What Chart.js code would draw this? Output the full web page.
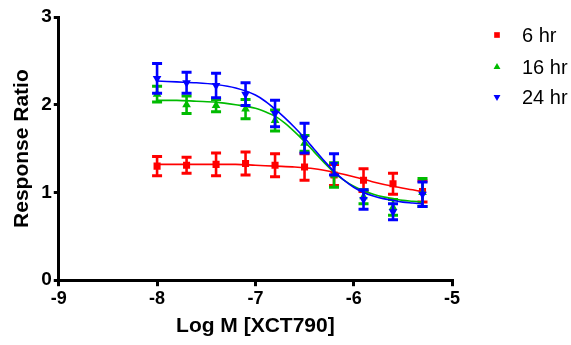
<!DOCTYPE html>
<html>
<head>
<meta charset="utf-8">
<script src="https://cdn.jsdelivr.net/npm/chart.js@4"></script>
<style>
  html, body { margin: 0; padding: 0; background: #fff; }
  #wrap { width: 571px; height: 345px; }
</style>
</head>
<body>
<div id="wrap"><canvas id="chart" width="571" height="345"></canvas></div>
<script>
// measured points (log dose, mean response, SEM)
const logDose = [-8, -7.7, -7.4, -7.1, -6.8, -6.5, -6.2, -5.9, -5.6, -5.3];
const mean6  = [1.30, 1.31, 1.32, 1.33, 1.31, 1.29, 1.20, 1.14, 1.10, 1.01];
const err6   = [0.11, 0.09, 0.13, 0.13, 0.13, 0.15, 0.12, 0.13, 0.12, 0.12];
const mean16 = [2.12, 2.00, 1.99, 1.95, 1.82, 1.56, 1.20, 0.95, 0.83, 1.00];
const err16  = [0.09, 0.10, 0.07, 0.11, 0.12, 0.09, 0.14, 0.08, 0.09, 0.16];
const mean24 = [2.30, 2.25, 2.22, 2.12, 1.90, 1.62, 1.32, 0.92, 0.78, 0.98];
const err24  = [0.17, 0.12, 0.14, 0.13, 0.15, 0.17, 0.12, 0.11, 0.09, 0.14];

// fitted curves
const curveX6 = [-8, -7.6, -7.2, -7.0, -6.8, -6.6, -6.4, -6.2, -6.0, -5.8, -5.6, -5.4, -5.3];
const fit6    = [1.32, 1.32, 1.32, 1.31, 1.30, 1.29, 1.27, 1.23, 1.18, 1.12, 1.07, 1.03, 1.01];
const curveX  = [-8, -7.8, -7.6, -7.4, -7.2, -7.0, -6.9, -6.8, -6.7, -6.6, -6.5, -6.4,
                 -6.3, -6.2, -6.1, -6.0, -5.9, -5.8, -5.7, -5.6, -5.5, -5.4, -5.3];
const fit16   = [2.05, 2.05, 2.04, 2.03, 2.00, 1.96, 1.92, 1.87, 1.79, 1.69, 1.58, 1.46,
                 1.34, 1.23, 1.14, 1.07, 1.02, 0.98, 0.95, 0.93, 0.91, 0.90, 0.89];
const fit24   = [2.27, 2.26, 2.25, 2.23, 2.19, 2.11, 2.04, 1.95, 1.85, 1.74, 1.62, 1.49,
                 1.36, 1.24, 1.14, 1.06, 1.00, 0.96, 0.93, 0.91, 0.89, 0.88, 0.87];

const seriesNames = ['6 hr', '16 hr', '24 hr'];
const xTicks = [-9, -8, -7, -6, -5];
const yTicks = [0, 1, 2, 3];

const colors = ['#ff0000', '#00bb00', '#0000ff'];
const pointStyles = ['rect', 'triangle', 'triangle'];
const rotations = [0, 0, 180];
const means = [mean6, mean16, mean24];
const errs = [err6, err16, err24];
const fitX = [curveX6, curveX, curveX];
const fits = [fit6, fit16, fit24];

const datasets = [];
for (let i = 0; i < 3; i++) {
    datasets.push({
        type: 'line',
        label: seriesNames[i] + ' fit',
        data: fitX[i].map((x, k) => ({ x: x, y: fits[i][k] })),
        borderColor: colors[i],
        borderWidth: 1.6,
        pointRadius: 0,
        fill: false,
        cubicInterpolationMode: 'monotone',
        order: 3 - i
    });
    datasets.push({
        type: 'scatter',
        label: seriesNames[i],
        data: logDose.map((x, k) => ({ x: x, y: means[i][k] })),
        errors: errs[i],
        backgroundColor: colors[i],
        borderColor: colors[i],
        pointStyle: pointStyles[i],
        rotation: rotations[i],
        pointRadius: 5,
        borderWidth: 0,
        order: 3 - i
    });
}

// error bars drawn right after each point dataset
const errorBars = {
    id: 'errorBars',
    afterDatasetDraw(chart, args) {
        const ds = chart.data.datasets[args.index];
        if (!ds.errors) return;
        const ctx = chart.ctx;
        const xs = chart.scales.x, ys = chart.scales.y;
        ctx.save();
        ctx.strokeStyle = ds.borderColor;
        ds.data.forEach((p, k) => {
            const px = xs.getPixelForValue(p.x);
            const top = ys.getPixelForValue(p.y + ds.errors[k]);
            const bot = ys.getPixelForValue(p.y - ds.errors[k]);
            ctx.lineWidth = 2.6;
            ctx.beginPath();
            ctx.moveTo(px, top);
            ctx.lineTo(px, bot);
            ctx.stroke();
            ctx.lineWidth = 3;
            ctx.beginPath();
            ctx.moveTo(px - 5, top);
            ctx.lineTo(px + 5, top);
            ctx.moveTo(px - 5, bot);
            ctx.lineTo(px + 5, bot);
            ctx.stroke();
        });
        ctx.restore();
    }
};

// legend on the right, like the original
const sideLegend = {
    id: 'sideLegend',
    afterDraw(chart) {
        const ctx = chart.ctx;
        const rowY = [35, 67, 97];
        ctx.save();
        ctx.font = '20px "Liberation Sans", Arial, sans-serif';
        ctx.textBaseline = 'middle';
        for (let i = 0; i < 3; i++) {
            ctx.fillStyle = colors[i];
            Chart.helpers.drawPoint(ctx, {
                pointStyle: pointStyles[i],
                rotation: rotations[i],
                radius: 4,
                borderWidth: 0
            }, 497, rowY[i]);
            ctx.fillStyle = '#000';
            ctx.fillText(seriesNames[i], 522, rowY[i] + 1);
        }
        ctx.restore();
    }
};

const ctx = document.getElementById('chart').getContext('2d');
new Chart(ctx, {
    data: { datasets: datasets },
    plugins: [errorBars, sideLegend],
    options: {
        responsive: false,
        animation: false,
        layout: { padding: { left: 10, right: 119, top: 17, bottom: 6 } },
        plugins: {
            legend: { display: false },
            tooltip: { enabled: false }
        },
        scales: {
            x: {
                type: 'linear',
                min: -9,
                max: -5,
                afterBuildTicks: (axis) => { axis.ticks = xTicks.map(v => ({ value: v })); },
                ticks: {
                    color: '#000',
                    font: { family: '"Liberation Sans", Arial, sans-serif', size: 18, weight: 'bold' },
                    padding: 2
                },
                grid: { drawOnChartArea: false, color: '#000', lineWidth: 3, tickLength: 6 },
                border: { color: '#000', width: 3 },
                title: {
                    display: true,
                    text: 'Log M [XCT790]',
                    color: '#000',
                    font: { family: '"Liberation Sans", Arial, sans-serif', size: 21, weight: 'bold' },
                    padding: { top: 2, bottom: 0 }
                }
            },
            y: {
                min: 0,
                max: 3,
                afterBuildTicks: (axis) => { axis.ticks = yTicks.map(v => ({ value: v })); },
                ticks: {
                    color: '#000',
                    font: { family: '"Liberation Sans", Arial, sans-serif', size: 19, weight: 'bold' },
                    padding: 2
                },
                grid: { drawOnChartArea: false, color: '#000', lineWidth: 3, tickLength: 5 },
                border: { color: '#000', width: 3 },
                title: {
                    display: true,
                    text: 'Response Ratio',
                    color: '#000',
                    font: { family: '"Liberation Sans", Arial, sans-serif', size: 21, weight: 'bold' },
                    padding: { top: 0, bottom: 4 }
                }
            }
        }
    }
});
</script>
</body>
</html>
